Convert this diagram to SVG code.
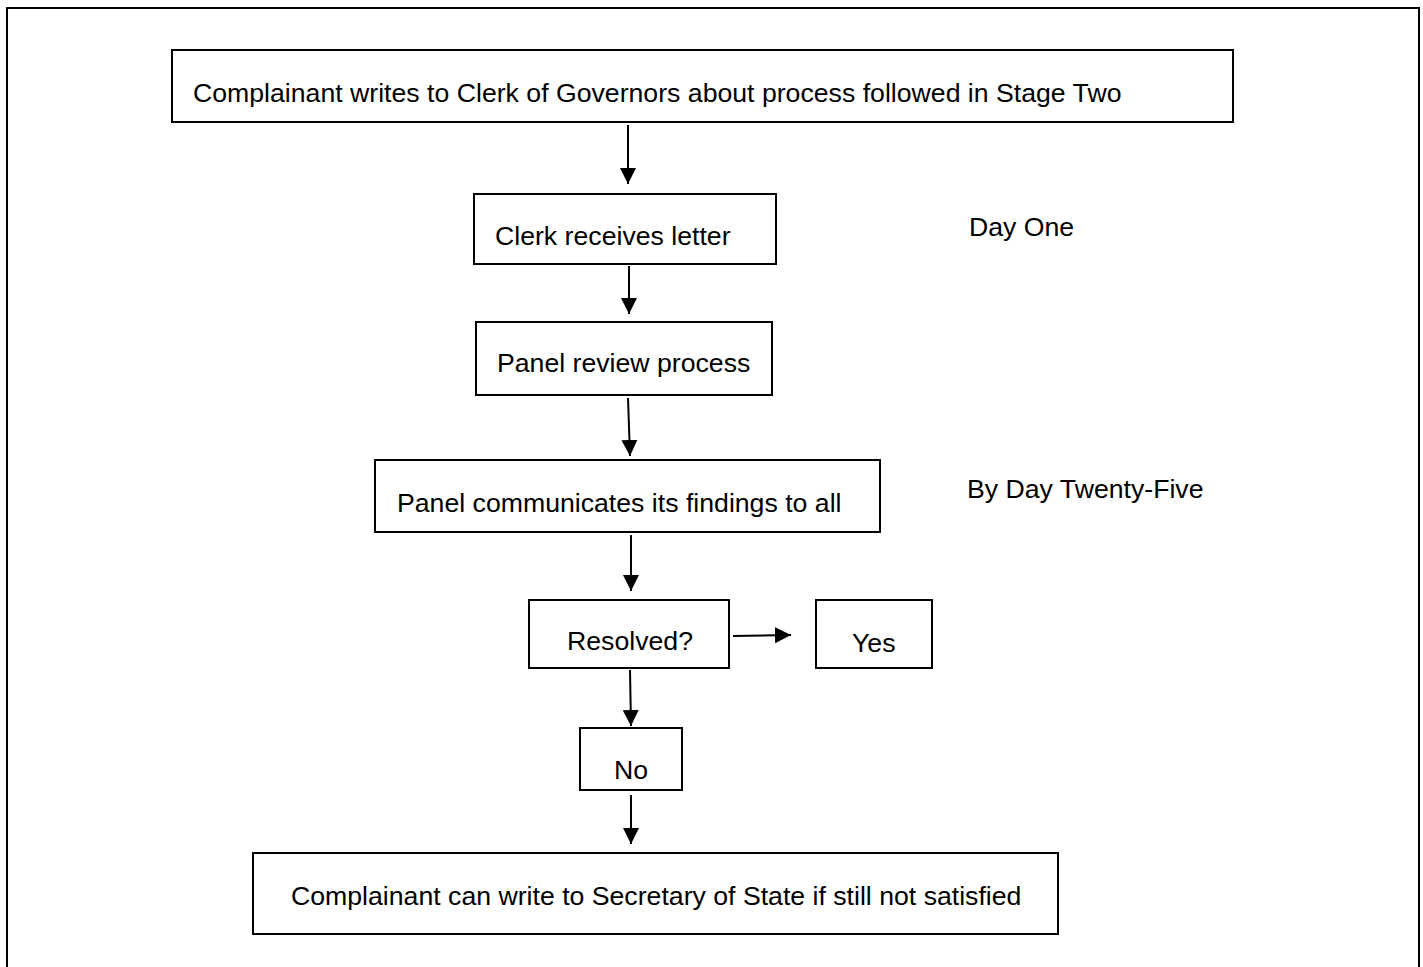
<svg xmlns="http://www.w3.org/2000/svg" width="1423" height="967" viewBox="0 0 1423 967">
<style>
.box{fill:#fff;stroke:#000;stroke-width:2}
.t{font-family:"Liberation Sans",Arial,sans-serif;font-size:26.67px;fill:#000}
.c{stroke:#000;stroke-width:2;fill:none}
</style>
<defs>
<marker id="ah" markerUnits="userSpaceOnUse" markerWidth="16" markerHeight="18" refX="16" refY="8" orient="auto" viewBox="0 0 16 16">
<path d="M0,0 L16,8 L0,16 Z" fill="#000"/>
</marker>
</defs>
<rect x="0" y="0" width="1423" height="967" fill="#fff"/>
<rect id="frame" x="7" y="8" width="1412" height="980" fill="none" stroke="#000" stroke-width="2"/>
<g id="connectors">
<line class="c" x1="628" y1="125" x2="628" y2="184" marker-end="url(#ah)"/>
<line class="c" x1="629" y1="266" x2="629" y2="314" marker-end="url(#ah)"/>
<line class="c" x1="628" y1="398" x2="630" y2="456" marker-end="url(#ah)"/>
<line class="c" x1="631" y1="535" x2="631" y2="591" marker-end="url(#ah)"/>
<line class="c" x1="733" y1="636" x2="791" y2="635" marker-end="url(#ah)"/>
<line class="c" x1="630" y1="670" x2="631" y2="726" marker-end="url(#ah)"/>
<line class="c" x1="631" y1="795" x2="631" y2="844" marker-end="url(#ah)"/>
</g>
<g id="n1"><rect class="box" x="172" y="50" width="1061" height="72"/><text class="t" x="193" y="102">Complainant writes to Clerk of Governors about process followed in Stage Two</text></g>
<g id="n2"><rect class="box" x="474" y="194" width="302" height="70"/><text class="t" x="495" y="245">Clerk receives letter</text></g>
<g id="n3"><rect class="box" x="476" y="322" width="296" height="73"/><text class="t" x="497" y="372">Panel review process</text></g>
<g id="n4"><rect class="box" x="375" y="460" width="505" height="72"/><text class="t" x="397" y="512">Panel communicates its findings to all</text></g>
<g id="n5"><rect class="box" x="529" y="600" width="200" height="68"/><text class="t" x="567" y="650">Resolved?</text></g>
<g id="n6"><rect class="box" x="816" y="600" width="116" height="68"/><text class="t" x="852" y="652">Yes</text></g>
<g id="n7"><rect class="box" x="580" y="728" width="102" height="62"/><text class="t" x="614" y="779">No</text></g>
<g id="n8"><rect class="box" x="253" y="853" width="805" height="81"/><text class="t" x="291" y="905">Complainant can write to Secretary of State if still not satisfied</text></g>
<g id="l1"><text class="t" x="969" y="236">Day One</text></g>
<g id="l2"><text class="t" x="967" y="498">By Day Twenty-Five</text></g>
</svg>
